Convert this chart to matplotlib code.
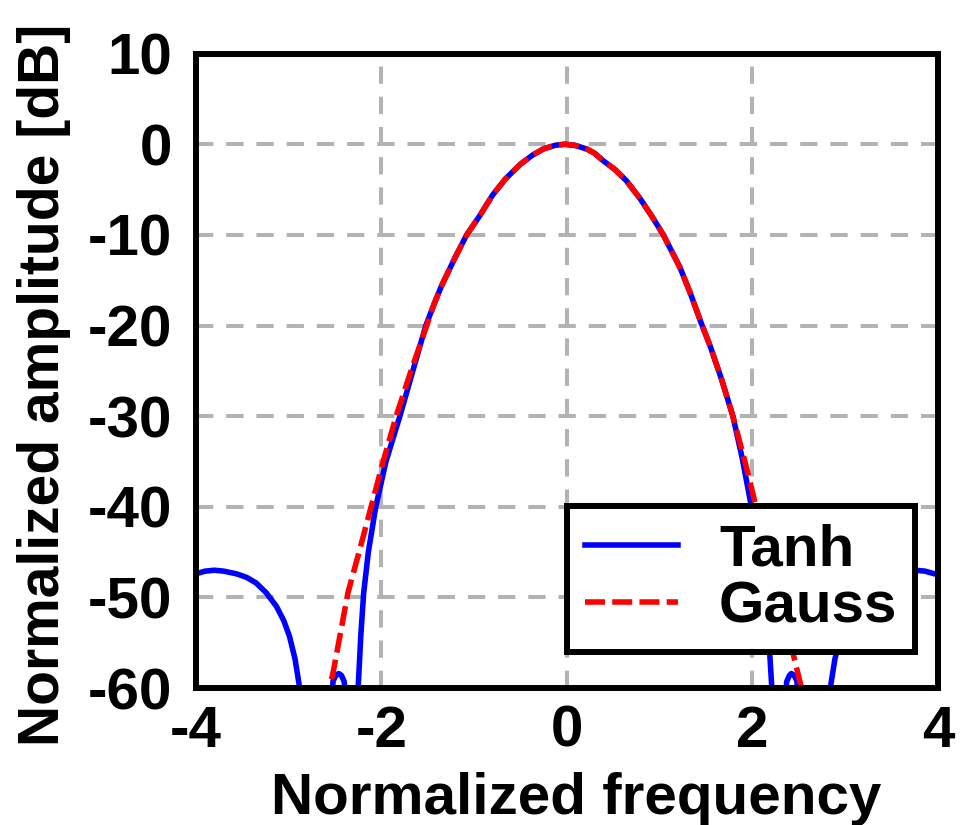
"""Normalized amplitude spectrum: Tanh vs Gauss window."""

import matplotlib
matplotlib.use("Agg")
import matplotlib.pyplot as plt
import numpy as np

plt.rcParams["font.family"] = ["Liberation Sans", "DejaVu Sans"]
plt.rcParams["font.weight"] = "bold"
plt.rcParams["axes.unicode_minus"] = False

nan = np.nan

# Tanh response (dB), NaN separates segments that drop below the axis
tanh_x = [
    -4.00, -3.90, -3.80, -3.70, -3.56, -3.45, -3.35, -3.24, -3.13, -3.05,
    -2.99, -2.93, -2.88, -2.86, nan,
    -2.54, -2.52, -2.49, -2.46, -2.43, -2.40, -2.38, nan,
    -2.26, -2.25, -2.22, -2.19, -2.14, -2.06, -1.95, -1.80, -1.66, -1.52,
    -1.43, -1.35, -1.27, -1.20, -1.08, -0.94, -0.80, -0.66, -0.50, -0.37,
    -0.25, -0.12, -0.02, 0.10, 0.22, 0.30, 0.39, 0.52, 0.64, 0.79,
    0.92, 1.04, 1.14, 1.22, 1.33, 1.44, 1.55, 1.67, 1.79, 1.89,
    1.99, 2.08, 2.14, 2.18, 2.21, 2.22, nan,
    2.35, 2.37, 2.40, 2.42, 2.45, 2.48, 2.50, nan,
    2.82, 2.84, 2.89, 2.95, 3.01, 3.09, 3.20, 3.31, 3.41, 3.52,
    3.66, 3.76, 3.86, 4.00,
]
tanh_db = [
    -47.4, -47.1, -47.0, -47.1, -47.4, -47.8, -48.4, -49.5, -51.0, -52.6,
    -54.3, -56.8, -60.0, -62.0, nan,
    -62.0, -59.2, -58.6, -58.4, -58.6, -59.3, -62.0, nan,
    -62.0, -60.0, -54.0, -49.5, -45.0, -40.0, -35.0, -30.0, -25.0, -20.0,
    -17.6, -15.6, -13.9, -12.4, -10.0, -7.9, -5.6, -3.8, -2.2, -1.2,
    -0.5, -0.1, 0.0, -0.15, -0.55, -1.0, -1.8, -2.8, -4.0, -6.0,
    -8.0, -10.0, -12.0, -13.6, -16.4, -19.5, -22.4, -26.0, -30.0, -34.6,
    -40.0, -45.0, -50.0, -55.0, -60.0, -62.0, nan,
    -62.0, -59.3, -58.6, -58.4, -58.6, -59.2, -62.0, nan,
    -62.0, -60.0, -56.8, -54.3, -52.6, -51.0, -49.5, -48.4, -47.8, -47.4,
    -47.1, -47.0, -47.1, -47.5,
]

# Gauss response (dB)
gauss_x = [
    -2.58, -2.56, -2.52, -2.46, -2.36, -2.24, -2.11, -1.98, -1.84, -1.68,
    -1.51, -1.43, -1.35, -1.27, -1.20, -1.08, -0.94, -0.80, -0.66, -0.50,
    -0.37, -0.25, -0.12, -0.02, 0.10, 0.22, 0.30, 0.39, 0.52, 0.64,
    0.79, 0.92, 1.04, 1.14, 1.22, 1.33, 1.44, 1.55, 1.67, 1.79,
    1.92, 2.04, 2.17, 2.29, 2.41, 2.53, 2.55,
]
gauss_db = [
    -62.0, -60.0, -58.3, -55.0, -49.5, -45.0, -40.0, -35.0, -30.0, -25.0,
    -20.0, -17.6, -15.6, -13.9, -12.4, -10.0, -7.9, -5.6, -3.8, -2.2,
    -1.2, -0.5, -0.1, 0.0, -0.15, -0.55, -1.0, -1.8, -2.8, -4.0,
    -6.0, -8.0, -10.0, -12.0, -13.6, -16.4, -19.5, -22.4, -26.0, -30.0,
    -35.0, -40.0, -45.0, -50.0, -55.0, -60.0, -62.0,
]

x_ticks = [-4, -2, 0, 2, 4]
y_ticks = [10, 0, -10, -20, -30, -40, -50, -60]


def main() -> None:
    fig = plt.figure(figsize=(9.79, 8.25), dpi=100)
    ax = fig.add_axes([0.200, 0.166, 0.758, 0.769])

    ax.plot(tanh_x, tanh_db, color="#0000ff", linewidth=4.0,
            label="Tanh", zorder=3)
    ax.plot(gauss_x, gauss_db, color="#ff0000", linewidth=4.0,
            linestyle=(0, (3.6, 1.3)), label="Gauss", zorder=4)

    ax.set_xlim(-4, 4)
    ax.set_ylim(-60, 10)
    ax.set_xticks(x_ticks)
    ax.set_yticks(y_ticks)
    ax.grid(True, color="#b3b3b3", linewidth=2.9,
            linestyle=(0, (4.3, 3.2)), zorder=1)
    ax.set_axisbelow(True)

    ax.tick_params(length=0, labelsize=42)
    ax.tick_params(axis="y", pad=17)
    ax.tick_params(axis="x", pad=12)
    for lab in ax.get_xticklabels() + ax.get_yticklabels():
        lab.set_fontweight("bold")
    for sp in ax.spines.values():
        sp.set_linewidth(4.3)
        sp.set_zorder(6)

    ax.set_xlabel("Normalized frequency", fontsize=42, fontweight="bold")
    ax.set_ylabel("Normalized amplitude [dB]", fontsize=41, fontweight="bold")
    ax.xaxis.set_label_coords(0.512, -0.133, transform=ax.transAxes)
    ax.yaxis.set_label_coords(-0.168, 0.478, transform=ax.transAxes)

    leg = ax.legend(loc="lower right", bbox_to_anchor=(0.969, 0.057),
                    borderaxespad=0, fontsize=42, frameon=True,
                    fancybox=False, framealpha=1.0, handlelength=1.6,
                    handletextpad=0.7, labelspacing=0.05, borderpad=0.3)
    leg.get_frame().set_edgecolor("black")
    leg.get_frame().set_linewidth(4.3)
    leg.set_zorder(5)

    fig.savefig("out.png", dpi=100, facecolor="white")
    plt.close(fig)


if __name__ == "__main__":
    main()
